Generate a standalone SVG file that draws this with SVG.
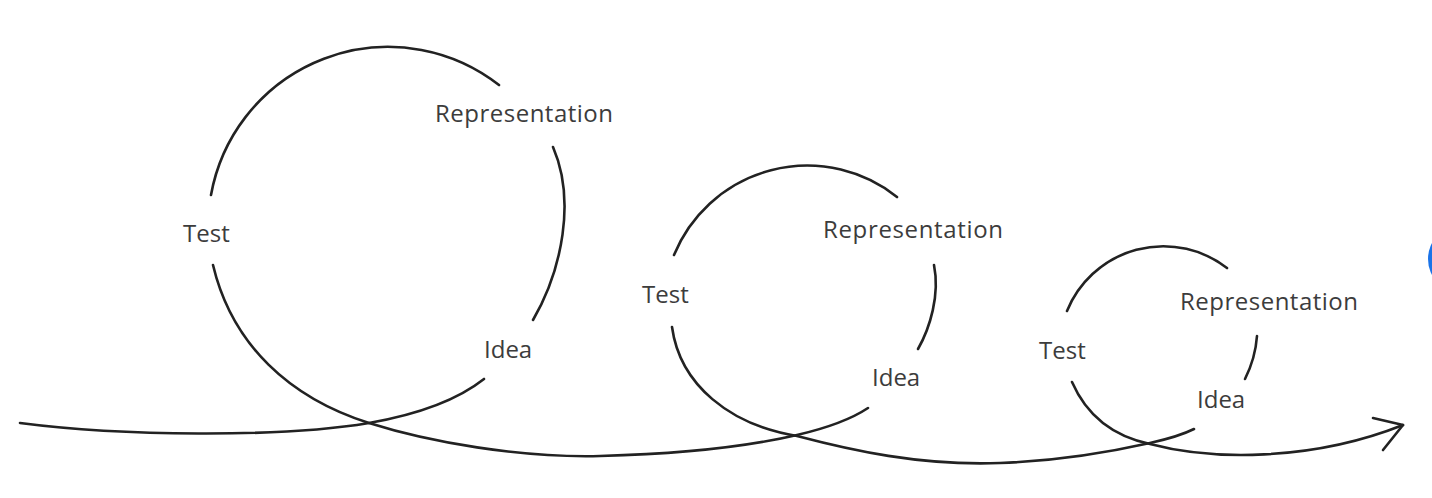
<svg xmlns="http://www.w3.org/2000/svg" width="1432" height="498" viewBox="0 0 1432 498">
<style>
.c{fill:none;stroke:#222;stroke-width:2.6;stroke-linecap:round;stroke-linejoin:round}
.t{font-family:"Open Sans","Noto Sans","Liberation Sans",sans-serif;font-size:24px;fill:#3c3c3c}
</style>
<rect width="1432" height="498" fill="#fff"/>
<g id="connectors">
<path class="c" d="M20,423 C120,436 280,438 369,423 C420,414 460,398 484,379"/>
<path class="c" d="M533,320 C562,270 576,200 553,147"/>
<path class="c" d="M499,85 A180,180 0 0 0 211,195"/>
<path class="c" d="M213,265 C232,345 290,398 369,423 C429,442 520,458 600,456 C680,454 750,446 797,435 C827,428 850,420 868,408"/>
<path class="c" d="M918,349 C930,328 940,295 934,265"/>
<path class="c" d="M897,197 A144,144 0 0 0 674,255"/>
<path class="c" d="M672,327 C680,385 730,425 797,436 C850,450 920,466 1000,463 C1060,461 1110,452 1150,443 C1168,439 1182,435 1194,429"/>
<path class="c" d="M1245,379 C1252,365 1256,350 1257,336"/>
<path class="c" d="M1227,268 A104,104 0 0 0 1067,311"/>
<path class="c" d="M1072,382 C1086,414 1112,436 1150,444 C1210,460 1310,462 1403,425"/>
<path class="c" d="M1373,418 L1403,425 L1383,450"/>
</g>
<g id="loop1">
<text class="t" x="435" y="122" textLength="178">Representation</text>
<text class="t" x="183" y="242">Test</text>
<text class="t" x="484" y="358">Idea</text>
</g>
<g id="loop2">
<text class="t" x="823" y="238" textLength="180">Representation</text>
<text class="t" x="642" y="303">Test</text>
<text class="t" x="872" y="386">Idea</text>
</g>
<g id="loop3">
<text class="t" x="1180" y="310" textLength="178">Representation</text>
<text class="t" x="1039" y="359">Test</text>
<text class="t" x="1197" y="408">Idea</text>
</g>
<circle id="edge-mark" cx="1462" cy="259" r="34" fill="#1a73e8"/>
</svg>
